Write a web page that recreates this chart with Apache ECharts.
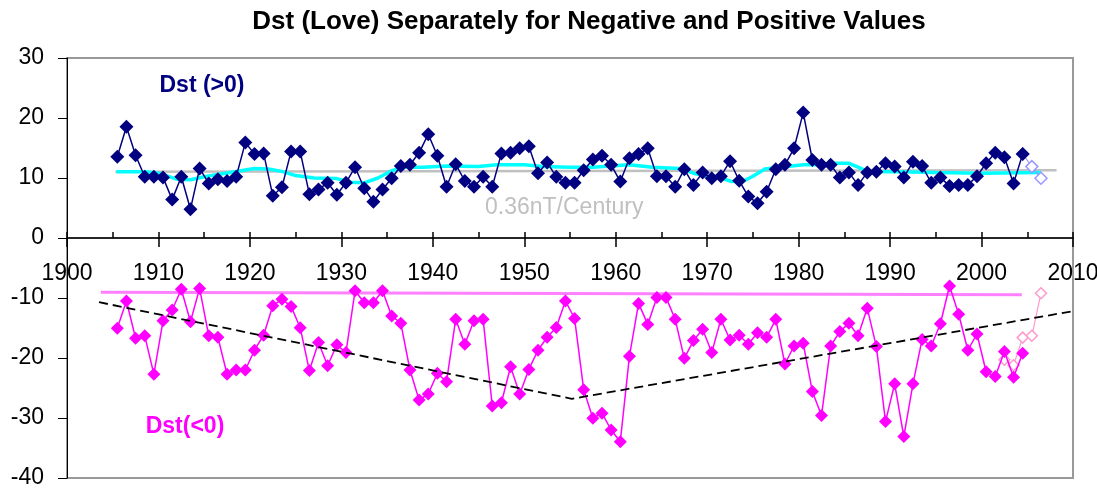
<!DOCTYPE html>
<html><head><meta charset="utf-8">
<script src="https://cdn.jsdelivr.net/npm/echarts@6/dist/echarts.min.js"></script>
<style>html,body{margin:0;padding:0;background:#fff}#c{width:1097px;height:488px}</style>
</head><body><div id="c"></div>
<script>
// Annual Dst (Love) — years of the annual means
const years = [
  1905,1906,1907,1908,1909,1910,1911,1912,1913,1914,
  1915,1916,1917,1918,1919,1920,1921,1922,1923,1924,
  1925,1926,1927,1928,1929,1930,1931,1932,1933,1934,
  1935,1936,1937,1938,1939,1940,1941,1942,1943,1944,
  1945,1946,1947,1948,1949,1950,1951,1952,1953,1954,
  1955,1956,1957,1958,1959,1960,1961,1962,1963,1964,
  1965,1966,1967,1968,1969,1970,1971,1972,1973,1974,
  1975,1976,1977,1978,1979,1980,1981,1982,1983,1984,
  1985,1986,1987,1988,1989,1990,1991,1992,1993,1994,
  1995,1996,1997,1998,1999,2000,2001,2002,2003,2004
];
const dstPositive = [
  13.55,18.55,13.8,10.2,10.2,10.1,6.4,10.2,4.8,11.6,
  9.1,9.8,9.5,10.2,15.9,14.0,14.1,7.05,8.45,14.4,
  14.4,7.3,8.1,9.2,7.2,9.2,11.8,8.3,6.05,8.1,
  9.95,12.0,12.2,14.2,17.3,13.7,8.55,12.3,9.5,8.55,
  10.2,8.55,14.1,14.2,14.95,15.3,10.8,12.6,10.2,9.2,
  9.2,11.3,13.1,13.7,12.2,9.4,13.3,14.0,14.95,10.3,
  10.3,8.55,11.45,8.85,10.9,9.95,10.3,12.8,9.55,6.9,
  5.8,7.7,11.45,12.2,14.95,20.9,13.0,12.2,12.2,10.1,
  10.9,8.85,10.9,11.05,12.45,11.9,10.1,12.7,12.0,9.2,
  10.1,8.65,8.85,8.85,10.3,12.45,14.2,13.45,9.1,14.0
];
const dstNegative = [
  -15.05,-10.5,-16.7,-16.3,-22.7,-13.8,-12.0,-8.55,-13.95,-8.4,
  -16.3,-16.55,-22.7,-22.0,-22.0,-18.7,-16.2,-11.3,-10.2,-11.4,
  -14.95,-22.1,-17.4,-21.3,-17.8,-19.1,-8.8,-10.8,-10.8,-8.8,
  -13.0,-14.2,-22.0,-27.0,-26.0,-22.55,-23.95,-13.55,-17.7,-13.8,
  -13.55,-28.0,-27.45,-21.45,-26.0,-21.9,-18.7,-16.55,-14.9,-10.5,
  -13.4,-25.3,-30.05,-29.2,-32.0,-33.95,-19.7,-10.9,-14.4,-9.9,
  -9.9,-13.55,-20.05,-17.1,-15.2,-19.1,-13.55,-17.0,-16.2,-17.7,
  -15.8,-16.55,-13.55,-21.0,-18.0,-17.55,-25.6,-29.6,-18.0,-15.6,
  -14.2,-16.3,-11.7,-18.1,-30.6,-24.3,-33.1,-24.3,-16.9,-18.0,
  -14.3,-8.0,-12.7,-18.7,-16.0,-22.3,-23.1,-18.9,-23.2,-19.2
];
// Provisional values (hollow markers)
const provPosYears = [2004, 2005, 2006];
const provPositive = [14.0, 11.9, 9.95];
const provNegYears = [2002, 2003, 2004, 2005, 2006];
const provNegative = [-20.3, -21.2, -16.6, -16.3, -9.2];
// Running mean of positive Dst (cyan)
const smoothYears = [1905.4,1908.5,1910,1912,1913.5,1915,1916.5,1918.5,1920.5,1922,1923.5,1925,1927,1929.5,1931,1932.5,1934,1935.5,1937,1939,1941.5,1945,1947,1950,1952,1955,1957.5,1959.5,1961.5,1964,1967,1968.5,1970,1971.5,1972.7,1974,1975,1976.3,1978,1980.5,1982,1984,1985.5,1986.5,1987.5,1991,1995,2000,2006.5];
const smoothPositive = [11.05,11.05,10.8,9.8,9.7,10.2,10.6,11.1,11.6,11.5,11.1,10.4,10.0,9.9,9.3,9.2,10.0,11.2,11.8,11.8,12.0,11.9,12.2,12.2,11.9,11.8,11.8,12.0,12.2,11.8,11.6,10.8,10.3,10.0,9.4,9.5,10.3,11.5,11.8,12.2,12.2,12.45,12.45,11.8,11.1,11.05,10.9,10.8,10.9];
// Linear trend of positive Dst (0.36 nT/century)
const trendPosYears = [1905.3, 2008.2];
const trendPosValues = [11.05, 11.3];
// Upper envelope level of negative Dst
const levelNegYears = [1903.7, 2004.4];
const levelNegValues = [-9.05, -9.45];
// V-shaped trend of negative Dst (dashed)
const vTrendYears = [1903.5, 1955.2, 2011.1];
const vTrendValues = [-10.7, -26.8, -11.9];
// Axis ticks
const xMin = 1900, xMax = 2010, xStep = 10, xMinorStep = 5;
const yPosMin = 0, yPosMax = 30, yNegMin = -40, yNegMax = 0, yStep = 10;

const annual = (ys, vs) => ys.map((y, i) => [y + 0.5, vs[i]]);
const pairs = (xs, vs) => xs.map((x, i) => [x, vs[i]]);
const FONT = "'Liberation Sans', Arial, sans-serif";
const gridStyle = {show: true, borderColor: '#999999', borderWidth: 2, containLabel: false, outerBoundsMode: 'none'};

const chart = echarts.init(document.getElementById('c'), null, {renderer: 'canvas'});
chart.setOption({
  animation: false,
  backgroundColor: '#ffffff',
  grid: [
    Object.assign({left: 67, right: 24, top: 58, height: 180}, gridStyle),
    Object.assign({left: 67, right: 24, top: 238, height: 240}, gridStyle)
  ],
  xAxis: [{
    gridIndex: 0, type: 'value', min: xMin, max: xMax, interval: xStep, position: 'bottom',
    axisLine: {show: true, onZero: false, lineStyle: {color: '#000', width: 1.5}},
    axisTick: {show: true, inside: false, length: 9, lineStyle: {color: '#000', width: 1.5}},
    axisLabel: {show: true, margin: 24, color: '#000', fontSize: 23, fontFamily: FONT, formatter: v => String(v), showMinLabel: true, showMaxLabel: true, hideOverlap: false},
    splitLine: {show: false}
  }, {
    gridIndex: 0, type: 'value', min: xMin, max: xMax, interval: xMinorStep, position: 'bottom',
    axisLine: {show: false, onZero: false},
    axisTick: {show: true, inside: true, length: 6, lineStyle: {color: '#000', width: 1.5}},
    axisLabel: {show: false},
    splitLine: {show: false}
  }, {
    gridIndex: 1, type: 'value', min: xMin, max: xMax, interval: xStep, position: 'bottom',
    axisLine: {show: false, onZero: false}, axisTick: {show: false}, axisLabel: {show: false}, splitLine: {show: false}
  }],
  yAxis: [{
    gridIndex: 0, type: 'value', min: yPosMin, max: yPosMax, interval: yStep,
    axisLine: {show: true, onZero: false, lineStyle: {color: '#000', width: 1}},
    axisTick: {show: true, inside: false, length: 9, lineStyle: {color: '#000', width: 1}},
    axisLabel: {margin: 23, color: '#000', fontSize: 23, fontFamily: FONT, showMinLabel: true, showMaxLabel: true},
    splitLine: {show: false}
  }, {
    gridIndex: 1, type: 'value', min: yNegMin, max: yNegMax, interval: yStep,
    axisLine: {show: true, onZero: false, lineStyle: {color: '#000', width: 1}},
    axisTick: {show: true, inside: false, length: 9, lineStyle: {color: '#000', width: 1}},
    axisLabel: {margin: 23, color: '#000', fontSize: 23, fontFamily: FONT, showMinLabel: true, showMaxLabel: false},
    splitLine: {show: false}
  }],
  graphic: [
    {type: 'text', x: 589, y: 22, style: {text: 'Dst (Love) Separately for Negative and Positive Values', fill: '#000', font: "bold 26px " + FONT, textAlign: 'center', textVerticalAlign: 'middle'}},
    {type: 'text', x: 202, y: 86, z: 10, style: {text: 'Dst (>0)', fill: '#000080', font: "bold 23px " + FONT, textAlign: 'center', textVerticalAlign: 'middle'}},
    {type: 'text', x: 185, y: 427, z: 10, style: {text: 'Dst(<0)', fill: '#ff00ff', font: "bold 23px " + FONT, textAlign: 'center', textVerticalAlign: 'middle'}},
    {type: 'text', x: 485, y: 208, z: 10, style: {text: '0.36nT/Century', fill: '#c0c0c0', font: "23px " + FONT, textAlign: 'left', textVerticalAlign: 'middle'}}
  ],
  series: [
    {name: 'trend+', type: 'line', xAxisIndex: 0, yAxisIndex: 0, data: pairs(trendPosYears, trendPosValues), symbol: 'none', z: 1,
     lineStyle: {color: '#c0c0c0', width: 2.5}},
    {name: 'smooth+', type: 'line', xAxisIndex: 0, yAxisIndex: 0, data: pairs(smoothYears, smoothPositive), symbol: 'none', z: 2,
     lineStyle: {color: '#00ffff', width: 3.5}},
    {name: 'prov+', type: 'line', xAxisIndex: 0, yAxisIndex: 0, data: annual(provPosYears, provPositive), symbol: 'diamond', symbolSize: 12, z: 3,
     itemStyle: {color: '#ffffff', borderColor: '#9999ff', borderWidth: 1.5}, lineStyle: {color: '#9999ff', width: 1.2}},
    {name: 'Dst (>0)', type: 'line', xAxisIndex: 0, yAxisIndex: 0, data: annual(years, dstPositive), symbol: 'diamond', symbolSize: 14, z: 4,
     itemStyle: {color: '#000080'}, lineStyle: {color: '#000080', width: 1.5}},
    {name: 'level-', type: 'line', xAxisIndex: 2, yAxisIndex: 1, data: pairs(levelNegYears, levelNegValues), symbol: 'none', z: 1,
     lineStyle: {color: '#ff80ff', width: 3}},
    {name: 'prov-', type: 'line', xAxisIndex: 2, yAxisIndex: 1, data: annual(provNegYears, provNegative), symbol: 'diamond', symbolSize: 11, z: 3,
     itemStyle: {color: '#ffffff', borderColor: '#ff99cc', borderWidth: 1.5}, lineStyle: {color: '#ff99cc', width: 1.2}},
    {name: 'Dst(<0)', type: 'line', xAxisIndex: 2, yAxisIndex: 1, data: annual(years, dstNegative), symbol: 'diamond', symbolSize: 13, z: 4,
     itemStyle: {color: '#ff00ff'}, lineStyle: {color: '#ff00ff', width: 1.5}},
    {name: 'vtrend', type: 'line', xAxisIndex: 2, yAxisIndex: 1, data: pairs(vTrendYears, vTrendValues), symbol: 'none', z: 5, clip: false,
     lineStyle: {color: '#000000', width: 1.8, type: [9, 5]}}
  ]
});
</script>
</body></html>
